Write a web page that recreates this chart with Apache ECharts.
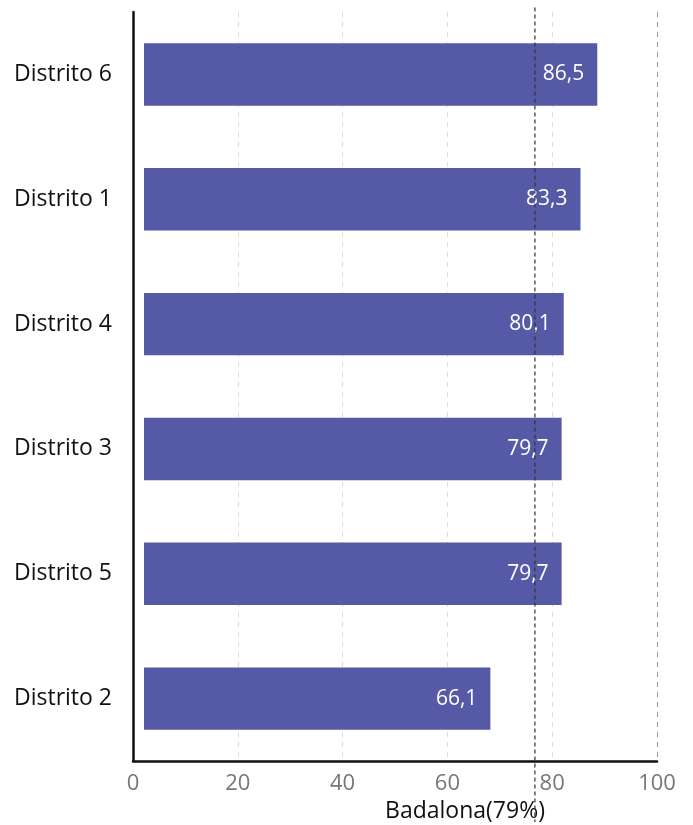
<!DOCTYPE html>
<html>
<head>
<meta charset="utf-8">
<script src="https://cdn.jsdelivr.net/npm/echarts@6/dist/echarts.min.js"></script>
<style>
  html, body { margin: 0; padding: 0; background: #fff; }
  #main { width: 693px; height: 825px; }
</style>
</head>
<body>
<div id="main"></div>
<script>
// datos
var distritos = ['Distrito 6', 'Distrito 1', 'Distrito 4', 'Distrito 3', 'Distrito 5', 'Distrito 2'];
var valores = [86.5, 83.3, 80.1, 79.7, 79.7, 66.1];
var xTicks = [0, 20, 40, 60, 80, 100];
var badalonaNombre = 'Badalona(79%)';
var badalonaLinea = 76.7; // posición de la línea
var barraInicio = 2.1;   // las barras empiezan un poco a la derecha del 0

var myChart = echarts.init(document.getElementById('main'));
var fuente = 'Open Sans';

var option = {
    animation: false,
    textStyle: { fontFamily: fuente },
    grid: { left: 133, right: 36, top: 12, bottom: 64, outerBoundsMode: 'none', containLabel: false },
    xAxis: [
        {
            type: 'value',
            min: xTicks[0],
            max: xTicks[xTicks.length - 1],
            interval: 20,
            name: badalonaNombre,
            nameLocation: 'middle',
            nameGap: 39,
            nameTextStyle: { color: '#111', fontSize: 23, fontFamily: fuente, padding: [0, 0, 0, 140] },
            axisLine: { show: true, lineStyle: { color: '#111', width: 2.5 } },
            axisTick: { show: false },
            axisLabel: { color: '#777', fontSize: 22, margin: 12, fontFamily: fuente },
            splitLine: {
                show: true,
                lineStyle: { type: [5, 5], color: ['#ddd', '#ddd', '#ddd', '#ddd', '#ddd', '#999'], width: 1 }
            }
        },
        {
            type: 'value',
            min: -barraInicio,
            max: 100 - barraInicio,
            show: false
        }
    ],
    yAxis: {
        type: 'category',
        inverse: true,
        data: distritos,
        axisLine: { show: true, lineStyle: { color: '#111', width: 2.5 } },
        axisTick: { show: false },
        axisLabel: { color: '#111', fontSize: 23, margin: 21, fontFamily: fuente },
        splitLine: { show: false }
    },
    series: [
        {
            type: 'bar',
            xAxisIndex: 1,
            data: valores,
            barWidth: '50%',
            itemStyle: { color: '#5659a6' },
            label: {
                show: true,
                position: 'insideRight',
                distance: 13,
                color: '#fff',
                fontSize: 21,
                fontFamily: fuente,
                formatter: function (p) {
                    return p.value.toFixed(1).replace('.', ',');
                }
            }
        }
    ]
};
myChart.setOption(option);

// línea de Badalona, sale un poco por arriba y baja hasta el nombre del eje
var px = myChart.convertToPixel({ xAxisIndex: 0 }, badalonaLinea);
var yTop = myChart.convertToPixel({ yAxisIndex: 0 }, distritos[0]) - 67;
myChart.setOption({
    graphic: [{
        type: 'line',
        shape: { x1: px, y1: yTop, x2: px, y2: 822 },
        style: { stroke: '#333', lineWidth: 1.2, lineDash: [4, 3] },
        z: 100
    }]
});
</script>
</body>
</html>
